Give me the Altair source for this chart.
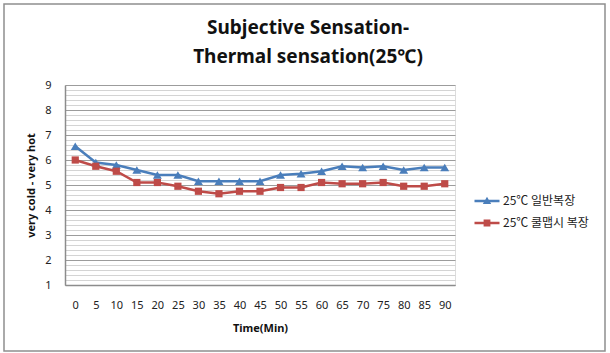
import altair as alt
import pandas as pd

# Time points (minutes) and mean thermal-sensation votes for the two clothing sets
times = ["0", "5", "10", "15", "20", "25", "30", "35", "40", "45",
         "50", "55", "60", "65", "70", "75", "80", "85", "90"]
regular = [6.55, 5.9, 5.8, 5.6, 5.4, 5.4, 5.15, 5.15, 5.15, 5.15,
           5.4, 5.45, 5.55, 5.75, 5.7, 5.75, 5.6, 5.7, 5.7]
coolbiz = [6.0, 5.75, 5.55, 5.1, 5.1, 4.95, 4.75, 4.65, 4.75, 4.75,
           4.9, 4.9, 5.1, 5.05, 5.05, 5.1, 4.95, 4.95, 5.05]

series_names = ["25℃ 일반복장", "25℃ 쿨맵시 복장"]
series_colors = ["#4A7EBB", "#BE4B48"]
series_markers = ["triangle-up", "square"]
series_marker_sizes = [80, 52]
y_major = [1, 2, 3, 4, 5, 6, 7, 8, 9]
y_minor = [round(1 + 0.2 * k, 1) for k in range(41)]

rows = []
for name, vals in zip(series_names, [regular, coolbiz]):
    for t, v in zip(times, vals):
        rows.append({"time": t, "series": name, "value": v})
df = pd.DataFrame(rows)

FONT = "Noto Sans"
CJK = "Noto Sans CJK KR"

# Legend glyphs: a short line with the series marker on it
legend_paths = [
    "M-1.25,-0.12H1.25V0.12H-1.25Z M0,-0.42L0.42,0.3L-0.42,0.3Z",
    "M-1.25,-0.12H1.25V0.12H-1.25Z M-0.34,-0.34H0.34V0.34H-0.34Z",
]

x_enc = alt.X("time:O", sort=times,
              scale=alt.Scale(type="point", padding=0.5),
              axis=alt.Axis(title="Time(Min)", labelAngle=0, ticks=False,
                            domainColor="#8c8c8c", domainWidth=1.5,
                            labelFont=FONT, labelFontSize=11, labelColor="#222",
                            labelPadding=14, titleFont=FONT, titleFontSize=11,
                            titleFontWeight="bold", titlePadding=12,
                            titleColor="#111"))

y_scale = alt.Scale(domain=[1, 9], nice=False, zero=False)
color_scale = alt.Scale(domain=series_names, range=series_colors)

common_legend = alt.Legend(title=None, orient="none", legendX=412, legendY=106,
                           symbolSize=400, symbolStrokeWidth=0, symbolOpacity=1,
                           labelFont=CJK, labelFontSize=12, labelColor="#222",
                           labelOffset=6, rowPadding=6, padding=0)

base = alt.Chart(df)

minor_grid = base.mark_line(opacity=0).encode(
    x=x_enc,
    y=alt.Y("value:Q", scale=y_scale,
            axis=alt.Axis(values=y_minor, orient="left", grid=True,
                          gridColor="#d4d4d4", gridWidth=1, labels=False,
                          ticks=False, domain=False, title=None)),
    detail="series:N",
)

major_axis = base.mark_line(opacity=0).encode(
    x=x_enc,
    y=alt.Y("value:Q", scale=y_scale,
            axis=alt.Axis(values=y_major, orient="left", grid=True,
                          gridColor="#9c9c9c", gridWidth=1, ticks=False,
                          domainColor="#8c8c8c", domainWidth=1.5,
                          labelFont=FONT, labelFontSize=11, labelColor="#222",
                          labelPadding=14, title="very cold - very hot",
                          titleFont=FONT, titleFontSize=11, titleFontWeight="bold",
                          titleColor="#111", titlePadding=8)),
    detail="series:N",
)

# One line + marker layer per series, each with fixed colour and glyph
series_layers = []
for name, col, shp, sz in zip(series_names, series_colors, series_markers,
                              series_marker_sizes):
    sub = base.transform_filter(alt.datum.series == name)
    series_layers.append(
        sub.mark_line(strokeWidth=2.5, color=col)
        .encode(x=x_enc, y=alt.Y("value:Q", scale=y_scale, axis=None))
    )
    series_layers.append(
        sub.mark_point(filled=True, opacity=1, strokeWidth=0, shape=shp, size=sz, color=col)
        .encode(x=x_enc, y=alt.Y("value:Q", scale=y_scale, axis=None))
    )

# Invisible points that carry the colour + glyph legend
legend_src = base.mark_point(filled=True, opacity=0).encode(
    x=x_enc,
    y=alt.Y("value:Q", scale=y_scale, axis=None),
    color=alt.Color("series:N", scale=color_scale, legend=common_legend),
    shape=alt.Shape("series:N",
                    scale=alt.Scale(domain=series_names, range=legend_paths),
                    legend=common_legend),
)

# Outer frame around the whole chart
frame = alt.Chart(pd.DataFrame({"k": [0]})).mark_rect(
    fill=None, stroke="#8f8f8f", strokeWidth=1.5, clip=False
).encode(x=alt.value(-61), x2=alt.value(540), y=alt.value(-81), y2=alt.value(266))

chart = alt.layer(minor_grid, major_axis, *series_layers, legend_src, frame).resolve_axis(
    y="independent"
).properties(
    width=390,
    height=200,
    autosize=alt.AutoSizeParams(type="none"),
    padding={"left": 65, "top": 85, "right": 155, "bottom": 68},
    title=alt.TitleParams(
        text=["Subjective Sensation-", "Thermal sensation(25℃)"],
        font=FONT, fontSize=19, fontWeight="bold", color="#111",
        anchor="middle", lineHeight=29, offset=0, dx=48, dy=64,
    ),
).configure_view(stroke=None).configure(background="white")

chart.save("out.html", embed_options={"renderer": "svg", "actions": False})
